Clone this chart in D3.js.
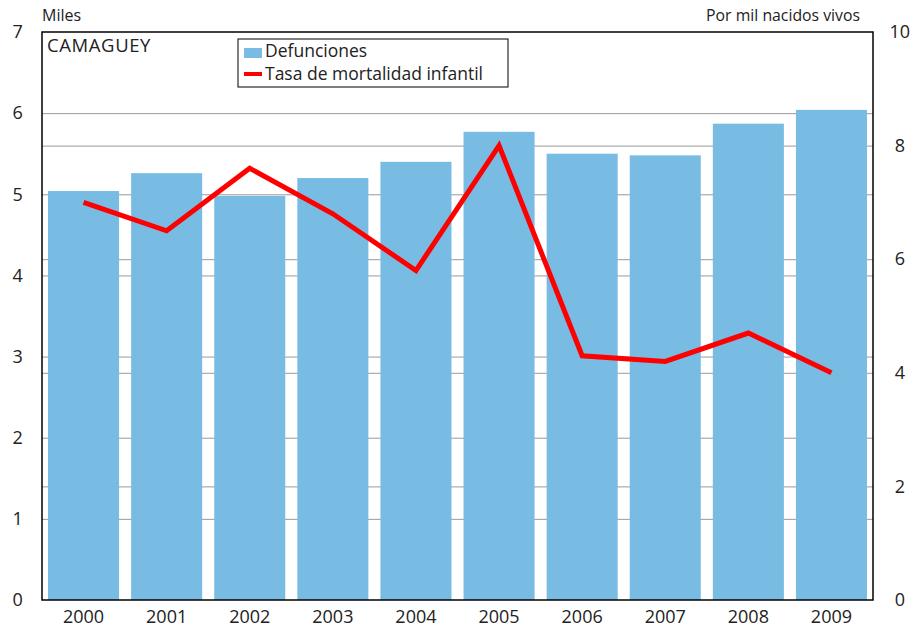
<!DOCTYPE html>
<html>
<head>
<meta charset="utf-8">
<script src="https://cdn.jsdelivr.net/npm/d3@7"></script>
<style>
  body { margin: 0; background: #fff; }
  text { font-family: "Open Sans", "DejaVu Sans", sans-serif; fill: #222; }
</style>
</head>
<body>
<div class="canvas"></div>
<script>
// datos
const years = ['2000', '2001', '2002', '2003', '2004', '2005', '2006', '2007', '2008', '2009'];
const defunciones = [5.04, 5.26, 4.98, 5.20, 5.40, 5.77, 5.50, 5.48, 5.87, 6.04];
const tasa = [7.0, 6.5, 7.6, 6.8, 5.8, 8.0, 4.3, 4.2, 4.7, 4.0];
const leftTicks = [0, 1, 2, 3, 4, 5, 6, 7];
const rightTicks = [0, 2, 4, 6, 8, 10];

const dims = { width: 916, height: 632 };
const m = { top: 32, right: 43, bottom: 32, left: 42 };
const w = dims.width - m.left - m.right;
const h = dims.height - m.top - m.bottom;

const svg = d3.select('.canvas')
  .append('svg')
  .attr('width', dims.width)
  .attr('height', dims.height);

const graph = svg.append('g')
  .attr('transform', `translate(${m.left}, ${m.top})`);

const x = d3.scaleBand()
  .domain(years)
  .range([0, w])
  .paddingInner(0.145)
  .paddingOuter(0.0725);

const yL = d3.scaleLinear().domain([0, 7]).range([h, 0]);
const yR = d3.scaleLinear().domain([0, 10]).range([h, 0]);

// lineas de cuadricula
graph.append('g')
  .attr('class', 'grid')
  .call(d3.axisLeft(yL).tickValues(leftTicks.slice(1, -1)).tickSize(-w).tickFormat(''))
  .call(g => g.select('.domain').remove());

graph.append('g')
  .attr('class', 'grid')
  .call(d3.axisLeft(yR).tickValues(rightTicks.slice(1, -1)).tickSize(-w).tickFormat(''))
  .call(g => g.select('.domain').remove());

graph.selectAll('.grid line')
  .attr('stroke', '#9a9a9a')
  .attr('stroke-width', 1);

// barras
graph.selectAll('rect.bar')
  .data(defunciones)
  .enter()
  .append('rect')
    .attr('class', 'bar')
    .attr('x', (d, i) => x(years[i]))
    .attr('width', x.bandwidth())
    .attr('y', d => yL(d))
    .attr('height', d => h - yL(d))
    .attr('fill', '#78bce4');

// linea de tasa
const line = d3.line()
  .x((d, i) => x(years[i]) + x.bandwidth() / 2)
  .y(d => yR(d));

graph.append('path')
  .datum(tasa)
  .attr('d', line)
  .attr('fill', 'none')
  .attr('stroke', '#ff0000')
  .attr('stroke-width', 5)
  .attr('stroke-linejoin', 'miter');

// marco
graph.append('rect')
  .attr('width', w)
  .attr('height', h)
  .attr('fill', 'none')
  .attr('stroke', '#000')
  .attr('stroke-width', 1.5);

// ejes
const axisL = graph.append('g')
  .call(d3.axisLeft(yL).tickValues(leftTicks).tickFormat(d3.format('d')).tickSize(0).tickPadding(18));
const axisR = graph.append('g')
  .attr('transform', `translate(${w}, 0)`)
  .call(d3.axisRight(yR).tickValues(rightTicks).tickFormat(d3.format('d')).tickSize(0).tickPadding(16));
const axisB = graph.append('g')
  .attr('transform', `translate(0, ${h})`)
  .call(d3.axisBottom(x).tickSize(0).tickPadding(10));

[axisL, axisR, axisB].forEach(a => {
  a.select('.domain').remove();
  a.selectAll('text')
    .attr('fill', '#222')
    .style('font-size', '18px')
    .style('font-family', '"Open Sans", "DejaVu Sans", sans-serif');
});
axisL.selectAll('text').attr('text-anchor', 'middle').attr('dx', '-0.35em');
axisR.selectAll('text').attr('text-anchor', 'middle').attr('dx', '0.6em');

// titulos de eje
svg.append('text')
  .attr('x', 42).attr('y', 21)
  .style('font-size', '16px')
  .text('Miles');

svg.append('text')
  .attr('x', 860).attr('y', 21)
  .attr('text-anchor', 'end')
  .style('font-size', '15.8px')
  .text('Por mil nacidos vivos');

svg.append('text')
  .attr('x', 47).attr('y', 52)
  .style('font-size', '18.5px')
  .style('letter-spacing', '0.6px')
  .text('CAMAGUEY');

// leyenda
const legend = svg.append('g').attr('transform', 'translate(238, 39)');
legend.append('rect')
  .attr('width', 270).attr('height', 48)
  .attr('fill', '#fff').attr('stroke', '#000').attr('stroke-width', 1);
legend.append('rect')
  .attr('x', 6).attr('y', 9).attr('width', 18).attr('height', 10)
  .attr('fill', '#78bce4');
legend.append('text')
  .attr('x', 27).attr('y', 18)
  .style('font-size', '17.5px')
  .text('Defunciones');
legend.append('rect')
  .attr('x', 6).attr('y', 33).attr('width', 18).attr('height', 4)
  .attr('fill', '#ff0000');
legend.append('text')
  .attr('x', 27).attr('y', 41)
  .style('font-size', '17.5px')
  .text('Tasa de mortalidad infantil');
</script>
</body>
</html>
